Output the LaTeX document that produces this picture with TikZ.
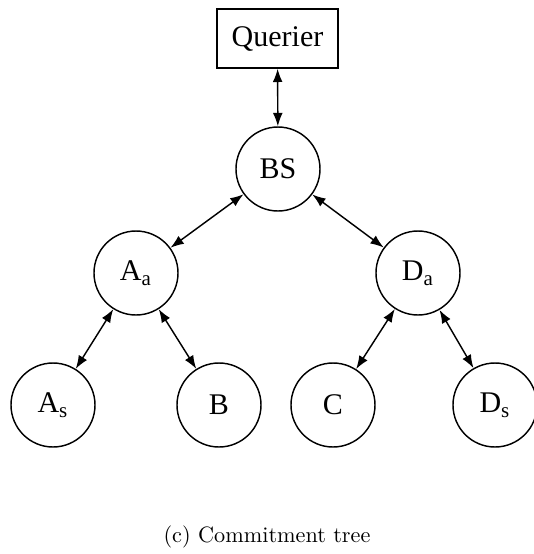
\documentclass[tikz,border=0pt]{standalone}
\usepackage{fontspec}
\usetikzlibrary{arrows.meta}
\newfontfamily\treefont{Liberation Serif}

\begin{document}
\begin{tikzpicture}[x=0.45pt, y=-0.45pt,
            member/.style={draw, circle, line width=0.65pt, minimum size=37.8pt, inner sep=0pt,
                font=\treefont\fontsize{13.5}{16}\selectfont},
            link/.style={<->, >={Latex[length=6pt, width=4.4pt]}, line width=0.65pt}]
            \useasboundingbox (0,0) rectangle (534,554);

            % querier on top, base station below it
            \node[draw, line width=0.65pt, minimum width=54.5pt, minimum height=26.5pt, inner sep=0pt,
                font=\treefont\fontsize{13.5}{16}\selectfont] (querier) at (277.5,38.5) {Querier};
            \node[member] (bs) at (278,169) {BS};

            % aggregators
            \node[member] (aa) at (136,273) {A\textsubscript{a}};
            \node[member] (da) at (418,273) {D\textsubscript{a}};

            % leaves
            \node[member] (as) at (53,405) {A\textsubscript{s}};
            \node[member] (b) at (219,405) {B};
            \node[member] (c) at (333,405) {C};
            \node[member] (ds) at (495,405) {D\textsubscript{s}};

            \draw[link] (querier) -- (bs);
            \draw[link] (bs) -- (aa);
            \draw[link] (bs) -- (da);
            \draw[link] (aa) -- (as);
            \draw[link] (aa) -- (b);
            \draw[link] (da) -- (c);
            \draw[link] (da) -- (ds);

            \node (caption) at (267,537) {(c) Commitment tree};
\end{tikzpicture}
\end{document}
